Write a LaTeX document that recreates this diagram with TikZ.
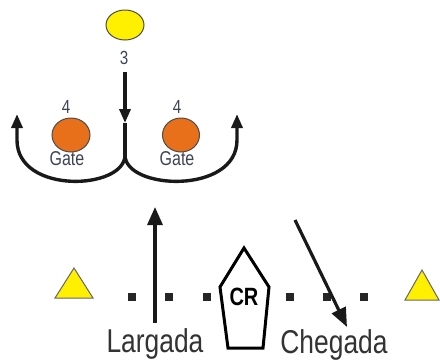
\documentclass[tikz,border=0pt]{standalone}
\usepackage{fontspec}
\setmainfont{Liberation Sans}
\newfontfamily\narrowsf[FakeStretch=0.8]{Liberation Sans}
\usetikzlibrary{arrows.meta,shapes.geometric}
\definecolor{ballyellow}{RGB}{255,240,0}
\definecolor{gateorange}{RGB}{232,112,26}
\definecolor{numgray}{RGB}{60,68,84}
\begin{document}
\begin{tikzpicture}[x=1pt,y=-1pt,
    ball/.style={ellipse,draw=black!70,line width=1pt,inner sep=0pt},
    num/.style={font=\narrowsf\fontsize{19}{19}\selectfont,text=numgray,inner sep=0pt},
    gatelabel/.style={font=\narrowsf\fontsize{20}{20}\selectfont,text=numgray,inner sep=0pt},
    biglabel/.style={font=\narrowsf\fontsize{33}{33}\selectfont,text=black!80,inner sep=0pt},
    pin/.style={fill=black!85,minimum size=7.5pt,inner sep=0pt},
    run/.style={line width=3.4pt,black!90},
    tip/.style={-{Triangle[width=11pt,length=14pt]}}]
  \useasboundingbox (0,0) rectangle (440,360);
  % top: ball, gates and the split run
  \node[ball,fill=ballyellow,minimum width=38pt,minimum height=30pt] (ball3) at (125,25) {};
  \node[num] (n3) at (124,58) {3};
  \node[ball,fill=gateorange,minimum width=38pt,minimum height=34pt] (gateL) at (71,135) {};
  \node[ball,fill=gateorange,minimum width=37pt,minimum height=34pt] (gateR) at (181,135) {};
  \node[num] (n4L) at (66,107) {4};
  \node[num] (n4R) at (177,107) {4};
  \node[gatelabel] (gL) at (67,159) {Gate};
  \node[gatelabel] (gR) at (177,159) {Gate};
  \coordinate (runtop) at (125,72);
  \coordinate (runmid) at (125,123);
  \coordinate (fork) at (125,155);
  \coordinate (endL) at (17,114);
  \coordinate (endR) at (237,114);
  \draw[run,tip] (runtop) -- (runmid);
  \draw[run] (runmid) -- (fork);
  \draw[run,tip] (fork) .. controls (125,190) and (17,195) .. (17,140) -- (endL);
  \draw[run,tip] (fork) .. controls (125,190) and (237,195) .. (237,140) -- (endR);
  % bottom: start/finish line
  \fill[ballyellow,draw=black!60,line width=1pt] (55,298) -- (74,268) -- (93,298) -- cycle;
  \fill[ballyellow,draw=black!60,line width=1pt] (405,300) -- (422,270) -- (439,300) -- cycle;
  \foreach \x in {132,169,207,290,327,364}
    \node[pin] (p\x) at (\x,297) {};
  \draw[line width=3pt,line join=miter] (244,248) -- (269,287) -- (263,348) -- (228,348) -- (220,287) -- cycle;
  \node[font=\narrowsf\bfseries\fontsize{25}{25}\selectfont,inner sep=0pt] (cr) at (244,297) {CR};
  \node[biglabel] (largada) at (155,344) {Largada};
  \node[biglabel] (chegada) at (334,345) {Chegada};
  \coordinate (lstart) at (155,323);
  \coordinate (lend) at (155,207);
  \coordinate (cstart) at (295,220);
  \coordinate (cend) at (347,327);
  \draw[line width=3.2pt,black!90,-{Triangle[width=15pt,length=18pt]}] (lstart) -- (lend);
  \draw[line width=3.2pt,black!90,-{Triangle[width=15pt,length=19pt]}] (cstart) -- (cend);
\end{tikzpicture}
\end{document}
